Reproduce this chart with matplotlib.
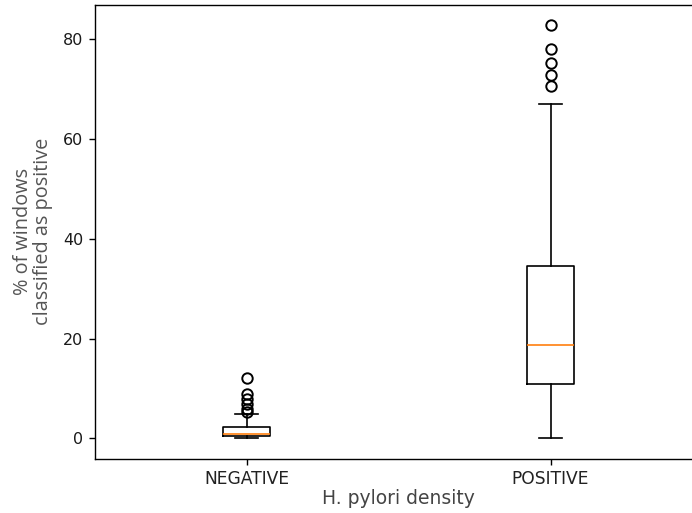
import matplotlib
matplotlib.use("Agg")
import matplotlib.pyplot as plt

# categories
groups = ["NEGATIVE", "POSITIVE"]
# box stats (% of windows classified as positive)
q1 = [0.4, 10.8]
med = [0.9, 18.7]
q3 = [2.3, 34.5]
whislo = [0.0, 0.0]
whishi = [4.9, 67.1]
fliers_neg = [5.3, 5.9, 6.9, 7.9, 8.9, 12.1]
fliers_pos = [70.6, 72.9, 75.2, 78.1, 82.8]

stats = []
for i, name in enumerate(groups):
    stats.append({
        "label": name,
        "q1": q1[i],
        "med": med[i],
        "q3": q3[i],
        "whislo": whislo[i],
        "whishi": whishi[i],
        "fliers": [fliers_neg, fliers_pos][i],
    })

lw = 1.2
fig = plt.figure(figsize=(6.92, 5.13), dpi=100)
ax = fig.add_axes([94.5 / 692, 54 / 513, 608 / 692, 454.5 / 513])
ax.bxp(stats, showfliers=True, widths=0.155,
       boxprops=dict(linewidth=lw),
       whiskerprops=dict(linewidth=lw),
       capprops=dict(linewidth=lw),
       medianprops=dict(linewidth=lw, color="#ff7f0e"),
       flierprops=dict(markersize=7.5, markeredgewidth=1.4))
ax.set_xlim(0.5, 2.5)
for s in ax.spines.values():
    s.set_linewidth(1.0)

ax.tick_params(axis="x", labelsize=12.3, labelcolor="#222222", width=1.0,
               length=4, pad=4)
ax.tick_params(axis="y", labelsize=11.5, labelcolor="#1a1a1a", width=1.0, length=4.5)
ax.set_xlabel("H. pylori density", fontsize=13.5, color="#444444", labelpad=0.5)
ax.set_ylabel("% of windows\nclassified as positive", fontsize=14.3,
              color="#555555", family="Open Sans", labelpad=7, linespacing=1.05)

plt.savefig("out.png", dpi=100)
plt.close()
